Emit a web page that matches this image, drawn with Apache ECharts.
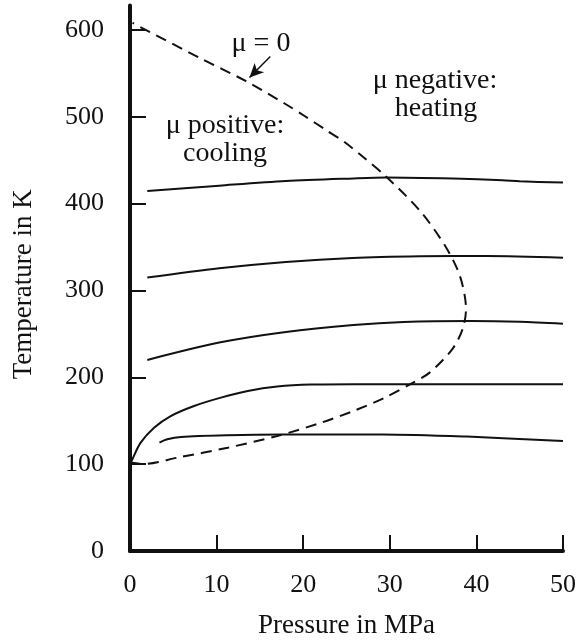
<!DOCTYPE html>
<html>
<head>
<meta charset="utf-8">
<script src="https://cdn.jsdelivr.net/npm/echarts@6/dist/echarts.min.js"></script>
<style>
html,body{margin:0;padding:0;background:#fff;}
#chart{width:579px;height:641px;}
</style>
</head>
<body>
<div id="chart"></div>
<script>
// Tick labels
const xTicks = [0, 10, 20, 30, 40, 50];
const yTicks = [0, 100, 200, 300, 400, 500, 600];

// Isenthalps (Pressure MPa, Temperature K)
const isenthalp1 = [[2,414.5],[10.3,420.7],[18,426],[25.8,429],[29.6,430],[37.3,428.8],[43,427],[45,425.7],[50,424.2]];
const isenthalp2 = [[2,314.8],[10.3,325.5],[18,332.8],[25.7,337.4],[33.5,339.3],[41.2,339.7],[50,337.8]];
const isenthalp3 = [[2,220],[10.3,240],[18,252.2],[25.8,260.2],[31.6,263.7],[39.3,264.8],[45,264],[50,261.8]];
const isenthalp4 = [[0,100],[0.27,105.6],[1.23,124.8],[2.78,142],[4.7,155.4],[7.4,167],[10.5,176.6],[13.6,184.2],[17,189.3],[20.9,191.6],[25.8,192],[35,192],[50,192]];
const isenthalp5 = [[3.4,124.8],[4.3,128.6],[5.9,131.3],[11.3,133.2],[17.7,134],[29.2,134.2],[38.9,131.7],[50,126.7]];

// Inversion curve (mu = 0)
const inversion = [[0,101.8],[1.5,100.2],[5.5,107.5],[11.3,119],[17,132.4],[22.1,147.8],[25.8,161.2],[29.4,176.5],[32.7,193.9],[34.6,205.4],[37.2,232.2],[38.4,255.3],[38.8,278.3],[38.1,316.6],[36.4,351.2],[33.5,391.5],[29.5,431.8],[27,453],[24.8,470.6],[22.5,485.6],[20.2,500.6],[17.9,515],[13.4,541],[8,568],[0.3,608]];

// Arrow pointing to the inversion curve (data coords)
const arrowFrom = [16.2, 569.3];
const arrowTo = [13.8, 545.1];

const FONT = '"Liberation Serif", "Times New Roman", serif';
const INK = '#111';

const chart = echarts.init(document.getElementById('chart'), null, {renderer: 'canvas'});

function solid(data) {
  return {type: 'line', data: data, showSymbol: false, symbol: 'none', smooth: 0.3,
    lineStyle: {color: INK, width: 2}, silent: true};
}

chart.setOption({
  animation: false,
  backgroundColor: '#fff',
  grid: {left: 130, right: 16, top: 5.6, bottom: 90, containLabel: false, outerBoundsMode: 'none'},
  xAxis: {
    type: 'value', min: 0, max: 50, interval: 10,
    name: 'Pressure in MPa', nameLocation: 'middle', nameGap: 61,
    nameTextStyle: {fontFamily: FONT, fontSize: 27, color: INK},
    axisLine: {show: true, onZero: false, lineStyle: {color: INK, width: 4}},
    axisTick: {show: true, inside: true, length: 16, lineStyle: {color: INK, width: 2}},
    axisLabel: {fontFamily: FONT, fontSize: 26, color: INK, margin: 21,
      customValues: xTicks},
    splitLine: {show: false}
  },
  yAxis: {
    type: 'value', min: 0, max: 628,
    name: 'Temperature in K', nameLocation: 'middle', nameGap: 93,
    nameTextStyle: {fontFamily: FONT, fontSize: 27, color: INK, padding: [0, 12, 0, 0]},
    axisLine: {show: true, onZero: false, lineStyle: {color: INK, width: 4}},
    axisTick: {show: true, inside: true, length: 16, lineStyle: {color: INK, width: 2},
      customValues: yTicks},
    axisLabel: {fontFamily: FONT, fontSize: 26, color: INK, margin: 26,
      customValues: yTicks},
    splitLine: {show: false}
  },
  series: [
    solid(isenthalp1), solid(isenthalp2), solid(isenthalp3), solid(isenthalp4), solid(isenthalp5),
    {type: 'line', data: inversion, showSymbol: false, symbol: 'none', smooth: 0.3,
      lineStyle: {color: INK, width: 2, type: [11, 7]}, silent: true,
      markLine: {
        silent: true, symbol: ['none', 'arrow'], symbolSize: [10, 14],
        lineStyle: {color: INK, width: 1.5, type: 'solid'},
        label: {show: false},
        data: [[{coord: arrowFrom}, {coord: arrowTo}]]
      }
    }
  ],
  graphic: [
    {type: 'text', x: 261, y: 44, style: {text: 'μ = 0', font: '28px ' + FONT, fill: INK, textAlign: 'center', textVerticalAlign: 'middle'}},
    {type: 'text', x: 225, y: 126, style: {text: 'μ positive:', font: '28px ' + FONT, fill: INK, textAlign: 'center', textVerticalAlign: 'middle'}},
    {type: 'text', x: 225, y: 154, style: {text: 'cooling', font: '28px ' + FONT, fill: INK, textAlign: 'center', textVerticalAlign: 'middle'}},
    {type: 'text', x: 435, y: 81, style: {text: 'μ negative:', font: '28px ' + FONT, fill: INK, textAlign: 'center', textVerticalAlign: 'middle'}},
    {type: 'text', x: 436, y: 109, style: {text: 'heating', font: '28px ' + FONT, fill: INK, textAlign: 'center', textVerticalAlign: 'middle'}}
  ]
});
</script>
</body>
</html>
